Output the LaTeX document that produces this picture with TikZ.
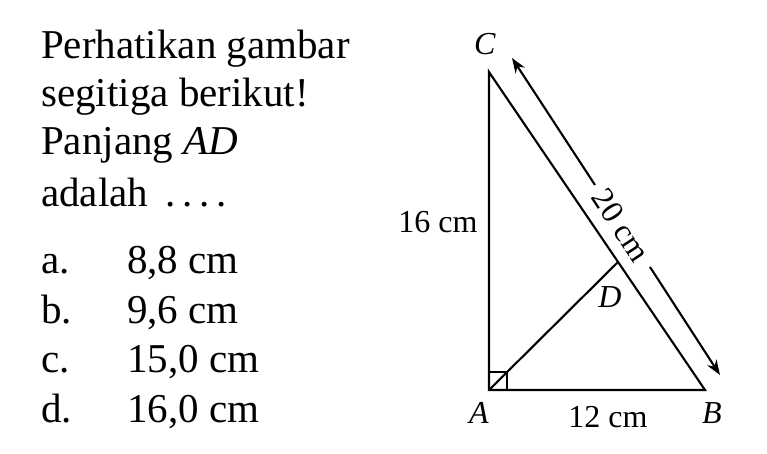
\documentclass[tikz,border=0pt]{standalone}
\usepackage{fontspec}
\setmainfont{Liberation Serif}
\usetikzlibrary{arrows.meta,calc}
\begin{document}
\begin{tikzpicture}[x=1pt,y=-1pt,
  big/.style={font=\fontsize{41}{50}\selectfont, inner sep=0pt, anchor=base west},
  lbl/.style={font=\fontsize{32}{38}\selectfont, inner sep=0pt, anchor=base},
  edge/.style={line width=2.1pt, line join=miter},
  dim/.style={line width=2.1pt, -{Stealth[length=15pt,width=11pt]}}]
\useasboundingbox (0,0) rectangle (767,454);
% question text
\node[big] (q1) at (41,59) {Perhatikan gambar};
\node[big] (q2) at (41,107) {segitiga berikut!};
\node[big] (q3) at (41,155) {Panjang \textit{AD}};
\node[big] (q4) at (41,207) {adalah \,.\,.\,.\,.};
\node[big] (oa) at (41,273) {a.};
\node[big] (va) at (127,273) {8,8 cm};
\node[big] (ob) at (41,323) {b.};
\node[big] (vb) at (127,323) {9,6 cm};
\node[big] (oc) at (41,372) {c.};
\node[big] (vc) at (127,372) {15,0 cm};
\node[big] (od) at (41,422) {d.};
\node[big] (vd) at (127,422) {16,0 cm};
% triangle
\coordinate (A) at (489,390);
\coordinate (C) at (489,72);
\coordinate (B) at (705,390);
\coordinate (D) at (618,262);
\draw[edge] (C) -- (A) -- (B) -- cycle;
\draw[edge] (A) -- (D);
\draw[line width=1.6pt] ($(A)+(0,-18)$) -- ++(18,0) -- ++(0,18);
% dimension arrow
\coordinate (P1) at (595,185);
\coordinate (T1) at (512,58);
\coordinate (P2) at (650,267);
\coordinate (T2) at (720,375);
\draw[dim] (P1) -- (T1);
\draw[dim] (P2) -- (T2);
\node[font=\fontsize{32}{38}\selectfont, inner sep=0pt, rotate=-56.7] (L20) at (621,225) {20 cm};
% labels
\node[lbl] (lC) at (485,55) {\textit{C}};
\node[lbl] (lA) at (479,423) {\textit{A}};
\node[lbl] (lB) at (712,423) {\textit{B}};
\node[lbl] (lD) at (610,307) {\textit{D}};
\node[lbl] (l16) at (438,232) {16 cm};
\node[lbl] (l12) at (608,427) {12 cm};
\end{tikzpicture}
\end{document}
